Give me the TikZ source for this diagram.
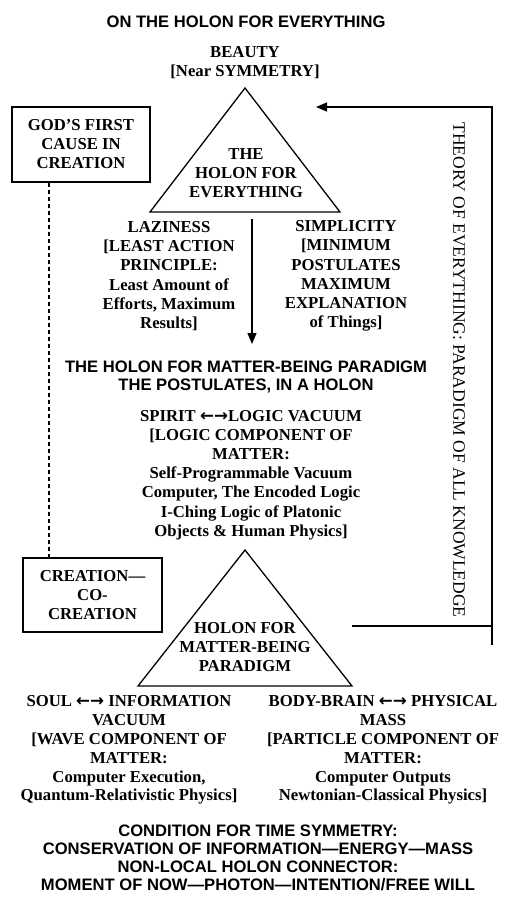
\documentclass[tikz,border=0pt]{standalone}
\usepackage{fontspec}
\setmainfont{Liberation Serif}
\setsansfont{Liberation Sans}
\newfontfamily\arrfont{DejaVu Sans}
\newcommand{\lrarr}{{\arrfont ←→}}
\usetikzlibrary{arrows.meta}
\tikzset{
  sf/.style={font=\sffamily\bfseries\fontsize{16.6}{18.2}\selectfont, inner sep=0pt, align=center},
  rmb/.style={font=\bfseries\fontsize{16.7}{19.2}\selectfont, inner sep=0pt, align=center},
  boxed/.style={draw, line width=1.3pt, inner sep=0pt, align=center, font=\bfseries\fontsize{16.7}{19}\selectfont},
  ln/.style={line width=1.3pt},
  tip/.style={-{Triangle[length=11pt,width=9pt]}}
}
\begin{document}
\begin{tikzpicture}[x=1pt,y=-1pt]
\useasboundingbox (0,0) rectangle (512,911);
% title
\node[sf] (title) at (246,22) {ON THE HOLON FOR EVERYTHING};
\node[rmb] (beauty) at (245,63) {BEAUTY\\{[}Near SYMMETRY{]}};
% top triangle
\coordinate (t1a) at (245,88);
\coordinate (t1r) at (340,212);
\coordinate (t1l) at (150,212);
\draw[ln, line join=miter] (t1a) -- (t1r) -- (t1l) -- cycle;
\node[rmb] (toe) at (246,173) {THE\\HOLON FOR\\EVERYTHING};
% God box
\node[boxed, minimum width=138pt, minimum height=75pt] (god) at (81,144.5) {GOD’S FIRST\\CAUSE IN\\CREATION};
% creation box
\node[boxed, minimum width=139pt, minimum height=74pt] (creat) at (92.5,595) {CREATION—\\CO-\\CREATION};
\coordinate (dx) at (49,0);
\draw[line width=1.1pt, dash pattern=on 4pt off 3pt] (god.south -| dx) -- (creat.north -| dx);
% laziness and simplicity
\node[rmb] (lazy) at (169,276) {LAZINESS\\{[}LEAST ACTION\\PRINCIPLE:\\Least Amount of\\Efforts, Maximum\\Results{]}};
\node[rmb] (simp) at (346,276) {SIMPLICITY\\{[}MINIMUM\\POSTULATES\\MAXIMUM\\EXPLANATION\\of Things{]}};
\coordinate (dtop) at (252,219);
\coordinate (dbot) at (252,344);
\draw[ln, tip] (dtop) -- (dbot);
% middle heading
\node[sf] (mid) at (246,377) {THE HOLON FOR MATTER-BEING PARADIGM\\THE POSTULATES, IN A HOLON};
\node[rmb] (spirit) at (251,475) {SPIRIT \lrarr LOGIC VACUUM\\{[}LOGIC COMPONENT OF\\MATTER:\\Self-Programmable Vacuum\\Computer, The Encoded Logic\\I-Ching Logic of Platonic\\Objects \& Human Physics{]}};
% bottom triangle
\coordinate (t2a) at (245,550);
\coordinate (t2r) at (352,686);
\coordinate (t2l) at (138,686);
\draw[ln, line join=miter] (t2a) -- (t2r) -- (t2l) -- cycle;
\node[rmb] (hmb) at (245,647) {HOLON FOR\\MATTER-BEING\\PARADIGM};
% soul & body
\node[rmb, font=\bfseries\fontsize{16.7}{18.9}\selectfont] (soul) at (129,750) {SOUL \lrarr{} INFORMATION\\VACUUM\\{[}WAVE COMPONENT OF\\MATTER:\\Computer Execution,\\Quantum-Relativistic Physics{]}};
\node[rmb, font=\bfseries\fontsize{16.7}{18.9}\selectfont] (body) at (383,750) {BODY-BRAIN \lrarr{} PHYSICAL\\MASS\\{[}PARTICLE COMPONENT OF\\MATTER:\\Computer Outputs\\Newtonian-Classical Physics{]}};
% bottom lines
\node[sf] (cond) at (258,858) {CONDITION FOR TIME SYMMETRY:\\CONSERVATION OF INFORMATION—ENERGY—MASS\\NON-LOCAL HOLON CONNECTOR:\\MOMENT OF NOW—PHOTON—INTENTION/FREE WILL};
% right loop
\coordinate (lp1) at (352,626);
\coordinate (lp2) at (492,626);
\coordinate (lp3) at (492,645);
\coordinate (lp4) at (492,107);
\coordinate (lp5) at (316,107);
\draw[ln] (lp1) -- (lp2);
\draw[ln, tip] (lp3) -- (lp4) -- (lp5);
\node[font=\fontsize{17.5}{20}\selectfont, inner sep=0pt, rotate=-90] (theory) at (459,370) {THEORY OF EVERYTHING: PARADIGM OF ALL KNOWLEDGE};
\end{tikzpicture}
\end{document}
